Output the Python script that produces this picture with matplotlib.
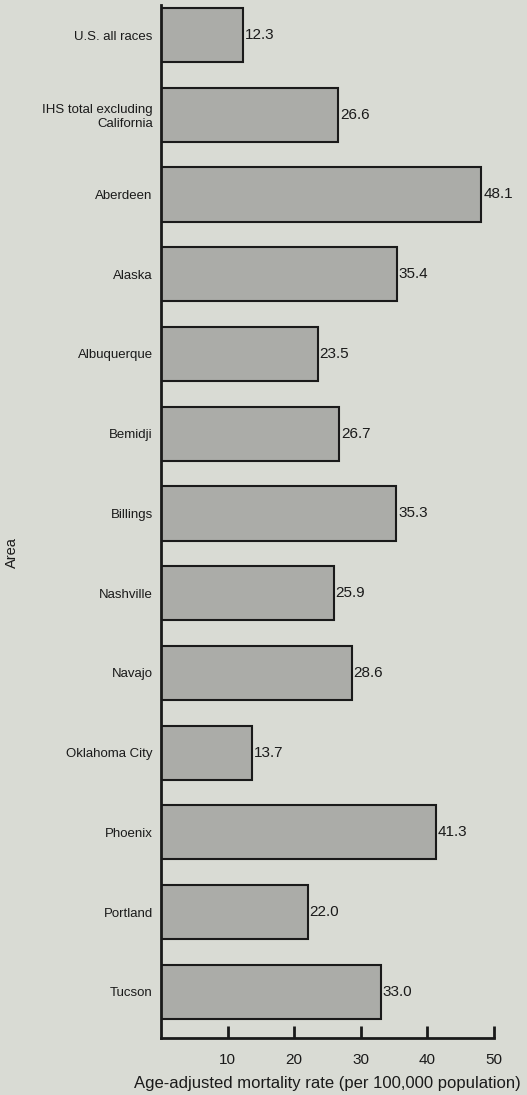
import numpy as np
import matplotlib.pyplot as plt

# %% Data
areas = ["U.S. all races", "IHS total excluding\nCalifornia", "Aberdeen", "Alaska",
         "Albuquerque", "Bemidji", "Billings", "Nashville", "Navajo",
         "Oklahoma City", "Phoenix", "Portland", "Tucson"]
rates = [12.3, 26.6, 48.1, 35.4, 23.5, 26.7, 35.3, 25.9, 28.6, 13.7, 41.3, 22.0, 33.0]
xticks = [10, 20, 30, 40, 50]

# %% Style
bg = "#d9dbd4"
bar_color = "#abaca8"
ink = "#1a1a1a"
sans = ["Liberation Sans", "DejaVu Sans"]
plt.rcParams["font.family"] = sans

fig = plt.figure(figsize=(5.27, 10.95), dpi=100, facecolor=bg)
ax = fig.add_axes([0.3055, 0.052, 0.632, 0.9434], facecolor=bg)

# %% Bars
y = np.arange(len(areas))
ax.barh(y, rates, height=0.68, color=bar_color, edgecolor=ink, linewidth=1.5)
for yi, v in zip(y, rates):
    ax.text(v + 0.3, yi, f"{v:.1f}", va="center", ha="left", fontsize=11, color=ink)

ax.set_ylim(len(areas) - 1 + 0.58, -0.376)
ax.set_xlim(0, 50)
ax.set_yticks(y)
ax.set_yticklabels(areas, fontsize=9.5, color=ink, ha="right")
ax.tick_params(axis="y", length=0, pad=6)
ax.set_xticks(xticks)
ax.set_xticklabels([str(t) for t in xticks], fontsize=11, color=ink)
ax.tick_params(axis="x", direction="in", length=9, width=2, color=ink, pad=11)

for s in ["top", "right"]:
    ax.spines[s].set_visible(False)
for s in ["left", "bottom"]:
    ax.spines[s].set_linewidth(2)
    ax.spines[s].set_color(ink)

ax.set_xlabel("Age-adjusted mortality rate (per 100,000 population)", fontsize=12,
              color=ink, labelpad=6)
fig.text(0.023, 0.495, "Area", rotation=90, va="center", ha="center",
         fontsize=10.5, color=ink)

fig.savefig("out.png", dpi=100, facecolor=bg)
